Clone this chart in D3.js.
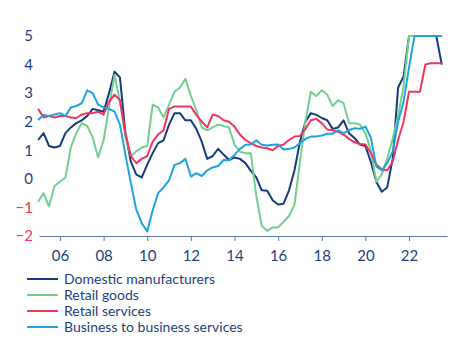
<!DOCTYPE html>
<html>
<head>
<meta charset="utf-8">
<script src="https://cdn.jsdelivr.net/npm/d3@7"></script>
<style>
    body { margin: 0; background: #fff; }
    svg { display: block; font-family: Lato, 'Open Sans', sans-serif; }
</style>
</head>
<body>
<script>
// quarterly observations, Q1 2005 .. Q3 2023
const quarters = d3.range(2005, 2023.51, 0.25);

const domesticManufacturers = [
    1.36, 1.6, 1.15, 1.1,
    1.15, 1.6, 1.8, 1.95,
    2.05, 2.2, 2.45, 2.4,
    2.35, 3.0, 3.75, 3.55,
    1.6, 0.6, 0.15, 0.05,
    0.5, 0.9, 1.25, 1.35,
    1.9, 2.3, 2.3, 2.05,
    2.05, 1.75, 1.3, 0.7,
    0.8, 1.05, 0.85, 0.66,
    0.75, 0.7, 0.55, 0.28,
    0.05, -0.4, -0.42, -0.75,
    -0.9, -0.87, -0.4, 0.3,
    1.3, 2.0, 2.3, 2.24,
    2.13, 2.05, 1.75, 1.8,
    2.05, 1.6, 1.43, 1.2,
    1.15, 0.6, -0.1, -0.45,
    -0.3, 0.7, 3.2, 3.58,
    5, 5, 5, 5,
    5, 5, 4
];

const retailGoods = [
    -0.8, -0.5, -0.97, -0.25,
    -0.1, 0.05, 1.1, 1.6,
    1.95, 1.85, 1.45, 0.75,
    1.35, 2.5, 3.64, 2.7,
    1.45, 0.8, 0.96, 1.1,
    1.15, 2.6, 2.5, 2.15,
    2.6, 3.05, 3.2, 3.5,
    2.9, 2.41, 1.8, 1.7,
    1.8, 1.9, 1.85, 1.8,
    1.2, 0.95, 0.9, 0.9,
    -0.6, -1.65, -1.82, -1.7,
    -1.7, -1.5, -1.3, -0.9,
    0.6, 2.0, 3.05, 2.9,
    3.1, 2.95, 2.55, 2.75,
    2.65, 1.95, 1.95, 1.9,
    1.6, 1.0, -0.1, 0.15,
    0.72, 1.4, 2.2, 3.25,
    5, 5, 5, 5,
    5, 5, 5
];

const retailServices = [
    2.45, 2.15, 2.2, 2.15,
    2.2, 2.2, 2.15, 2.13,
    2.25, 2.3, 2.3, 2.35,
    2.25, 2.7, 2.95, 2.75,
    1.6, 0.8, 0.55, 0.7,
    0.8, 1.3, 1.55, 1.7,
    2.45, 2.53, 2.53, 2.53,
    2.53, 2.24, 2.0, 1.8,
    2.25, 2.2, 2.05, 2.0,
    1.83, 1.55, 1.36, 1.25,
    1.15, 1.1, 1.07, 1.0,
    1.15, 1.2, 1.36, 1.48,
    1.5, 1.75, 2.05, 2.1,
    1.95, 1.73, 1.7, 1.65,
    1.55, 1.4, 1.28, 1.22,
    1.2, 0.9, 0.5, 0.33,
    0.3, 0.6, 1.36, 2.0,
    3.05, 3.05, 3.05, 4.0,
    4.05, 4.05, 4.05
];

const businessServices = [
    2.06, 2.24, 2.2, 2.25,
    2.3, 2.2, 2.5, 2.55,
    2.65, 3.1, 3.0, 2.6,
    2.5, 2.45, 2.35, 1.9,
    0.85, -0.15, -1.08, -1.55,
    -1.84, -1.1, -0.5, -0.3,
    -0.05, 0.49, 0.55, 0.7,
    0.08, 0.2, 0.1, 0.3,
    0.4, 0.45, 0.66, 0.65,
    0.84, 1.05, 1.19, 1.2,
    1.35, 1.19, 1.17, 1.19,
    1.2, 1.03, 1.05, 1.1,
    1.25, 1.4, 1.48, 1.48,
    1.52, 1.58, 1.58, 1.7,
    1.6, 1.71, 1.77, 1.75,
    1.83, 1.45, 0.43, 0.3,
    0.55, 0.95, 2.0, 2.7,
    3.9, 5, 5, 5,
    5, 5, 5
];

const seriesNames = ['Domestic manufacturers', 'Retail goods', 'Retail services', 'Business to business services'];
const seriesColors = ['#163a7d', '#72d08e', '#f2345e', '#1fa3de'];
const xTicks = [2006, 2008, 2010, 2012, 2014, 2016, 2018, 2020, 2022];
const yTicks = [-2, -1, 0, 1, 2, 3, 4, 5];

drawChart();

function drawChart()
{
    const svgWidth = 463;
    const svgHeight = 351;
    const navy = '#1d3f7f';
    const pink = '#f2345e';

    const svg = d3.select('body')
        .append('svg')
        .attr('width', svgWidth)
        .attr('height', svgHeight);

    const x = d3.scaleLinear()
        .domain([2005.04, 2023.74])
        .range([39, 447]);

    const y = d3.scaleLinear()
        .domain([-2, 5])
        .range([236, 36]);

    // y labels only, no axis line
    const yAxis = svg.append('g')
        .attr('transform', 'translate(39,0)')
        .call(d3.axisLeft(y)
            .tickValues(yTicks)
            .tickFormat(d3.format('d'))
            .tickSize(0)
            .tickPadding(6));

    yAxis.select('.domain').remove();
    yAxis.selectAll('text')
        .attr('font-family', 'Lato, sans-serif')
        .attr('font-size', 15)
        .attr('fill', d => d < 0 ? pink : navy);

    // lines, drawn in legend order
    const line = d3.line()
        .x((d, i) => x(quarters[i]))
        .y(d => y(d));

    const allSeries = [domesticManufacturers, retailGoods, retailServices, businessServices];

    svg.append('g')
        .selectAll('path')
        .data(allSeries)
        .enter()
        .append('path')
        .attr('d', line)
        .attr('fill', 'none')
        .attr('stroke', (d, i) => seriesColors[i])
        .attr('stroke-width', 2)
        .attr('stroke-linejoin', 'round');

    // x axis
    const xAxis = svg.append('g')
        .attr('transform', 'translate(0,236)')
        .call(d3.axisBottom(x)
            .tickValues(xTicks)
            .tickFormat(d => String(d).slice(2))
            .tickSize(5)
            .tickSizeOuter(0)
            .tickPadding(9));

    xAxis.select('.domain').attr('stroke', '#5a78ad');
    xAxis.selectAll('.tick line').attr('stroke', '#5a78ad');
    xAxis.selectAll('text')
        .attr('font-family', 'Lato, sans-serif')
        .attr('font-size', 15)
        .attr('fill', navy);

    // legend
    const legend = svg.append('g')
        .selectAll('g')
        .data(seriesNames)
        .enter()
        .append('g')
        .attr('transform', (d, i) => `translate(27,${279 + i * 16})`);

    legend.append('line')
        .attr('x1', 0)
        .attr('x2', 31)
        .attr('stroke', (d, i) => seriesColors[i])
        .attr('stroke-width', 2);

    legend.append('text')
        .attr('x', 37)
        .attr('dy', '0.35em')
        .attr('font-size', 14)
        .attr('fill', navy)
        .text(d => d);
}
</script>
</body>
</html>
